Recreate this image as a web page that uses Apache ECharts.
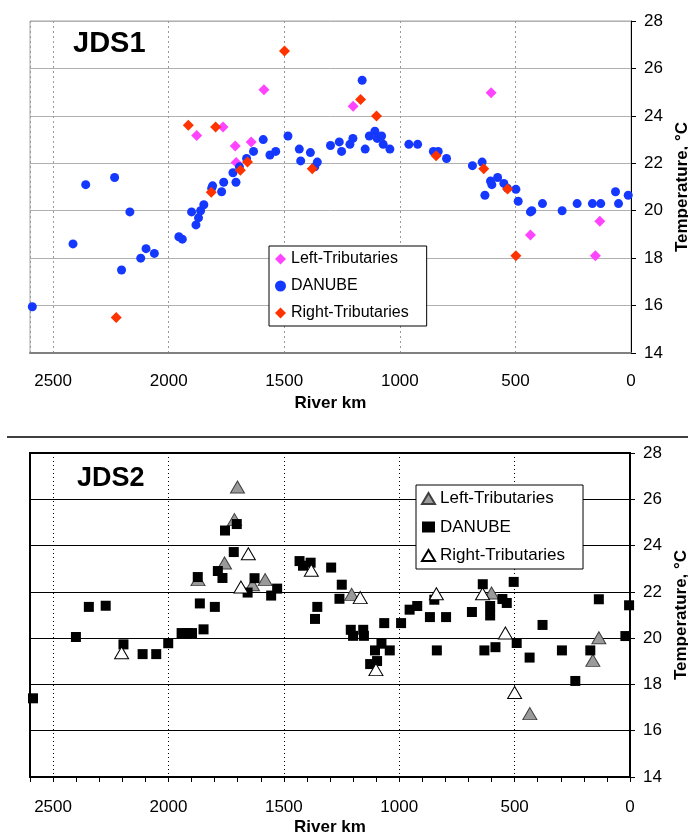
<!DOCTYPE html>
<html>
<head>
<meta charset="UTF-8">
<title>JDS1 / JDS2 Temperature</title>
<script src="https://cdn.jsdelivr.net/npm/echarts@6/dist/echarts.min.js"></script>
</head>
<body style="margin:0;background:#fff;">
<div id="container" style="width:688px;height:834px;"></div>
<script>
var FONT = '"Liberation Sans", Arial, sans-serif';

// JDS1: [river km, temperature °C]
var jds1Left = [[1879,23.17],[1765,23.53],[1712,22.73],[1708,22.03],[1643,22.9],[1588,25.1],
  [1202,24.4],[605,24.97],[435,18.98],[135,19.56],[154,18.1]];
var jds1Danube = [[2590,15.95],[2414,18.6],[2359,21.1],[2234,21.4],[2204,17.5],[2168,19.95],
  [2121,18.0],[2098,18.4],[2062,18.2],[1956,18.9],[1941,18.8],[1901,19.95],[1882,19.4],
  [1871,19.7],[1862,20.0],[1848,20.25],[1814,20.95],[1810,21.05],[1771,20.8],[1762,21.2],
  [1722,21.6],[1709,21.2],[1694,21.85],[1663,22.2],[1633,22.5],[1591,23.0],[1562,22.35],
  [1537,22.5],[1484,23.15],[1435,22.6],[1429,22.1],[1387,22.45],[1368,21.85],[1357,22.05],
  [1300,22.75],[1262,22.9],[1252,22.5],[1216,22.8],[1203,23.05],[1163,25.5],[1150,22.6],
  [1132,23.15],[1108,23.35],[1098,23.05],[1079,23.15],[1072,22.8],[1043,22.6],[961,22.8],
  [923,22.8],[855,22.5],[834,22.5],[798,22.2],[686,21.9],[644,22.05],[632,20.65],[608,21.25],
  [602,21.1],[577,21.4],[550,21.15],[535,20.95],[498,20.9],[488,20.4],[435,19.95],[429,20.0],
  [383,20.3],[298,20.0],[233,20.3],[167,20.3],[131,20.3],[67,20.8],[54,20.3],[12,20.65]];
var jds1Right = [[2227,15.5],[1915,23.6],[1797,23.53],[1816,20.78],[1690,21.71],[1659,22.05],
  [1499,26.73],[1379,21.77],[1170,24.69],[1101,23.99],[843,22.32],[637,21.77],[534,20.92],[498,18.1]];

// JDS2: [river km, temperature °C]
var jds2Left = [[1701,26.53],[1714,25.12],[1757,23.25],[1872,22.53],[1636,22.31],[1581,22.53],
  [1206,21.89],[600,21.95],[434,16.74],[161,19.04],[135,20.02]];
var jds2Danube = [[2587,17.4],[2401,20.05],[2345,21.35],[2272,21.4],[2195,19.73],[2112,19.31],
  [2053,19.31],[2001,19.78],[1943,20.22],[1920,20.22],[1898,20.22],[1864,21.5],[1848,20.38],
  [1873,22.64],[1799,21.35],[1786,22.9],[1766,22.6],[1755,24.65],[1717,23.72],[1704,24.93],
  [1657,21.97],[1627,22.59],[1555,21.84],[1529,22.14],[1432,23.33],[1417,23.13],[1384,23.26],
  [1365,20.83],[1355,21.35],[1295,23.05],[1249,22.31],[1259,21.7],[1210,20.36],[1200,20.1],
  [1156,20.36],[1153,20.1],[1105,19.47],[1077,19.76],[1041,19.47],[1126,18.88],[1096,19.01],
  [1065,20.65],[992,20.65],[955,21.23],[922,21.39],[867,20.91],[797,20.91],[848,21.66],
  [837,19.47],[685,21.13],[638,22.33],[606,21.39],[606,20.98],[631,19.47],[583,19.61],
  [553,21.69],[534,21.52],[504,22.43],[491,19.79],[435,19.16],[379,20.57],[295,19.47],
  [237,18.15],[172,19.47],[135,21.68],[20,20.09],[4,21.42]];
var jds2Right = [[2203,19.37],[1654,23.65],[1686,22.21],[1381,22.93],[1169,21.75],[839,21.92],
  [639,21.92],[540,20.22],[1101,18.64],[500,17.65]];

var seriesNames = ['Left-Tributaries', 'DANUBE', 'Right-Tributaries'];

var dom = document.getElementById('container');
var myChart = echarts.init(dom);

function kmLabel(v) { return v === 2600 ? '' : v; }

var option = {
  animation: false,
  textStyle: { fontFamily: FONT },
  grid: [
    { left: 30, top: 21, width: 601, height: 332, show: true, borderColor: '#a6a6a6', borderWidth: 1,
      outerBoundsMode: 'none', containLabel: false },
    { left: 30, top: 453, width: 600, height: 324, show: true, borderColor: '#000', borderWidth: 2,
      outerBoundsMode: 'none', containLabel: false }
  ],
  xAxis: [
    {
      gridIndex: 0, type: 'value', position: 'bottom', inverse: true, min: 0, max: 2600, interval: 500,
      name: 'River km', nameLocation: 'middle', nameGap: 42,
      nameTextStyle: { fontSize: 17, fontWeight: 'bold', color: '#000', fontFamily: FONT },
      axisLine: { lineStyle: { color: '#808080', width: 2 } },
      axisTick: { show: false },
      axisLabel: { margin: 20, fontSize: 17, color: '#000', fontFamily: FONT, formatter: kmLabel },
      splitLine: { show: true, lineStyle: { color: '#999', type: [2, 3], width: 1 } }
    },
    {
      gridIndex: 1, type: 'value', position: 'bottom', inverse: true, min: 0, max: 2600, interval: 500,
      name: 'River km', nameLocation: 'middle', nameGap: 42,
      nameTextStyle: { fontSize: 17, fontWeight: 'bold', color: '#000', fontFamily: FONT },
      axisLine: { lineStyle: { color: '#000', width: 2 } },
      axisTick: { show: false },
      axisLabel: { margin: 22, fontSize: 17, color: '#000', fontFamily: FONT, formatter: kmLabel },
      splitLine: { show: true, lineStyle: { color: '#000', type: [1, 3], width: 1 } }
    },
    {
      gridIndex: 1, type: 'value', position: 'bottom', offset: 0, inverse: true, min: 0, max: 2600, interval: 100,
      axisLine: { show: false },
      axisTick: { show: true, inside: false, length: 5, lineStyle: { color: '#000', width: 1 } },
      axisLabel: { show: false },
      splitLine: { show: false }
    }
  ],
  yAxis: [
    {
      gridIndex: 0, type: 'value', position: 'right', min: 14, max: 28, interval: 2,
      name: 'Temperature, °C', nameLocation: 'middle', nameRotate: 90, nameGap: 34,
      nameTextStyle: { fontSize: 17, fontWeight: 'bold', color: '#000', fontFamily: FONT },
      axisLine: { show: true, lineStyle: { color: '#000', width: 1 } },
      axisTick: { show: true, length: 5, lineStyle: { color: '#000' } },
      axisLabel: { margin: 13, fontSize: 17, color: '#000', fontFamily: FONT },
      splitLine: { show: true, lineStyle: { color: '#b0b0b0', width: 1 } }
    },
    {
      gridIndex: 1, type: 'value', position: 'right', min: 14, max: 28, interval: 2,
      name: 'Temperature, °C', nameLocation: 'middle', nameRotate: 90, nameGap: 34,
      nameTextStyle: { fontSize: 17, fontWeight: 'bold', color: '#000', fontFamily: FONT },
      axisLine: { show: true, lineStyle: { color: '#000', width: 1.5 } },
      axisTick: { show: true, length: 5, lineStyle: { color: '#000' } },
      axisLabel: { margin: 13, fontSize: 17, color: '#000', fontFamily: FONT },
      splitLine: { show: true, lineStyle: { color: '#000', width: 1 } }
    }
  ],
  legend: [
    {
      data: seriesNames, orient: 'vertical', left: 269, top: 246,
      padding: [5, 18, 5, 6], itemGap: 11, itemWidth: 11, itemHeight: 11,
      borderColor: '#000', borderWidth: 1, backgroundColor: '#fff',
      textStyle: { fontSize: 16, color: '#000', fontFamily: FONT, lineHeight: 16 }
    },
    {
      data: seriesNames.map(function (n) { return 'JDS2 ' + n; }),
      formatter: function (n) { return n.replace('JDS2 ', ''); },
      orient: 'vertical', left: 416, top: 485,
      padding: [5, 18, 5, 5], itemGap: 11.5, itemWidth: 13, itemHeight: 11,
      borderColor: '#000', borderWidth: 1, backgroundColor: '#fff',
      textStyle: { fontSize: 17, color: '#000', fontFamily: FONT, lineHeight: 17 }
    }
  ],
  graphic: [
    { type: 'line', shape: { x1: 7, y1: 437, x2: 688, y2: 437 }, style: { stroke: '#000', lineWidth: 1.5 } },
    { type: 'text', x: 73, y: 44, style: { text: 'JDS1', font: 'bold 29px ' + FONT, fill: '#000', verticalAlign: 'middle' } },
    { type: 'text', x: 77, y: 479, style: { text: 'JDS2', font: 'bold 27px ' + FONT, fill: '#000', verticalAlign: 'middle' } }
  ],
  series: [
    { name: seriesNames[0], type: 'scatter', xAxisIndex: 0, yAxisIndex: 0, data: jds1Left,
      symbol: 'diamond', symbolSize: 11, itemStyle: { color: '#ff44ff', opacity: 1 } },
    { name: seriesNames[1], type: 'scatter', xAxisIndex: 0, yAxisIndex: 0, data: jds1Danube,
      symbol: 'circle', symbolSize: 9, itemStyle: { color: '#1538ff', opacity: 1 } },
    { name: seriesNames[2], type: 'scatter', xAxisIndex: 0, yAxisIndex: 0, data: jds1Right,
      symbol: 'diamond', symbolSize: 11, itemStyle: { color: '#ff3300', opacity: 1 } },
    { name: 'JDS2 ' + seriesNames[0], type: 'scatter', xAxisIndex: 1, yAxisIndex: 1, data: jds2Left,
      symbol: 'triangle', symbolSize: [14, 12],
      itemStyle: { color: '#9a9a9a', borderColor: '#404040', borderWidth: 1, opacity: 1 } },
    { name: 'JDS2 ' + seriesNames[1], type: 'scatter', xAxisIndex: 1, yAxisIndex: 1, data: jds2Danube,
      symbol: 'rect', symbolSize: 10, itemStyle: { color: '#000', opacity: 1 } },
    { name: 'JDS2 ' + seriesNames[2], type: 'scatter', xAxisIndex: 1, yAxisIndex: 1, data: jds2Right,
      symbol: 'triangle', symbolSize: [14, 12],
      itemStyle: { color: '#fff', borderColor: '#000', borderWidth: 1, opacity: 1 } }
  ]
};

myChart.setOption(option);
</script>
</body>
</html>
